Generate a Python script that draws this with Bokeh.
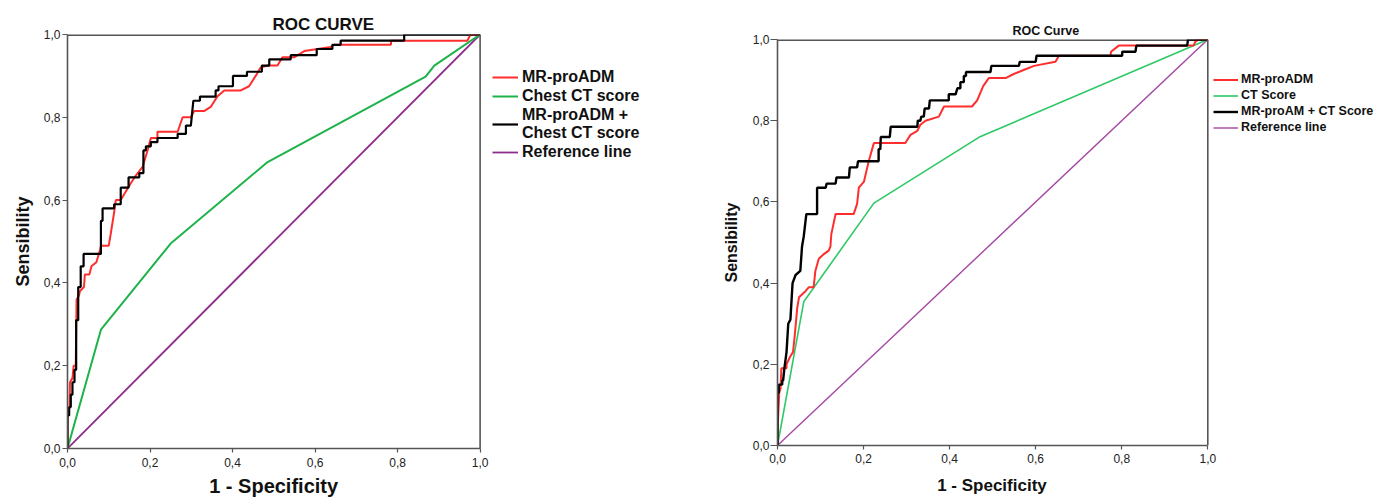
from bokeh.plotting import figure
from bokeh.models import Range1d, FixedTicker, CustomJSTickFormatter, Legend, LegendItem, Span
from bokeh.layouts import row, column
from bokeh.embed import file_html
from bokeh.resources import INLINE

FONT = "Liberation Sans"

# ---------------- data: left panel ----------------
left_title = "ROC CURVE"
left_names = ["MR-proADM", "Chest CT score", "MR-proADM +\nChest CT score", "Reference line"]

l_mr_fpr = [0, 0, 0.005, 0.006, 0.012, 0.015, 0.02, 0.022, 0.028, 0.03, 0.04, 0.042, 0.053, 0.058,
            0.07, 0.079, 0.081, 0.1, 0.105, 0.113, 0.117, 0.129, 0.141, 0.153, 0.166, 0.182, 0.194,
            0.198, 0.202, 0.218, 0.218, 0.267, 0.279, 0.299, 0.307, 0.331, 0.347, 0.363, 0.38, 0.42,
            0.44, 0.456, 0.468, 0.485, 0.509, 0.521, 0.549, 0.574, 0.638, 0.646, 0.784, 0.784, 0.969,
            0.977, 1.0]
l_mr_tpr = [0, 0.08, 0.1, 0.16, 0.17, 0.2, 0.2, 0.36, 0.37, 0.38, 0.39, 0.42, 0.42, 0.44,
            0.45, 0.48, 0.49, 0.49, 0.52, 0.57, 0.6, 0.6, 0.62, 0.64, 0.66, 0.68, 0.72,
            0.735, 0.75, 0.75, 0.765, 0.765, 0.8, 0.8, 0.815, 0.815, 0.825, 0.85, 0.865, 0.865,
            0.875, 0.9, 0.92, 0.925, 0.925, 0.945, 0.945, 0.96, 0.97, 0.975, 0.975, 0.985, 0.985,
            1.0, 1.0]

l_ct_fpr = [0, 0.081, 0.25, 0.485, 0.868, 0.889, 1.0]
l_ct_tpr = [0, 0.287, 0.495, 0.692, 0.898, 0.925, 1.0]

l_comb_fpr = [0, 0, 0.004, 0.004, 0.008, 0.008, 0.012, 0.012, 0.017, 0.017, 0.021, 0.021, 0.026, 0.026,
              0.032, 0.032, 0.039, 0.039, 0.081, 0.081, 0.085, 0.085, 0.113, 0.113, 0.129, 0.129,
              0.148, 0.148, 0.174, 0.174, 0.184, 0.184, 0.19, 0.19, 0.202, 0.202, 0.218, 0.218,
              0.267, 0.267, 0.287, 0.287, 0.299, 0.305, 0.321, 0.321, 0.359, 0.359, 0.366, 0.366,
              0.401, 0.401, 0.435, 0.435, 0.471, 0.471, 0.489, 0.489, 0.541, 0.541, 0.604, 0.604,
              0.642, 0.642, 0.662, 0.662, 0.816, 0.816, 1.0]
l_comb_tpr = [0, 0.08, 0.08, 0.1, 0.1, 0.13, 0.13, 0.16, 0.16, 0.19, 0.19, 0.31, 0.31, 0.39,
              0.39, 0.44, 0.44, 0.47, 0.47, 0.55, 0.55, 0.58, 0.58, 0.59, 0.59, 0.63,
              0.63, 0.655, 0.655, 0.665, 0.665, 0.72, 0.72, 0.73, 0.73, 0.74, 0.74, 0.75,
              0.75, 0.76, 0.76, 0.78, 0.78, 0.84, 0.84, 0.85, 0.85, 0.865, 0.865, 0.875,
              0.875, 0.9, 0.9, 0.91, 0.91, 0.925, 0.925, 0.94, 0.94, 0.95, 0.95, 0.965,
              0.965, 0.975, 0.975, 0.985, 0.985, 1.0, 1.0]

ref_fpr = [0, 1]
ref_tpr = [0, 1]

# axis limits (the plotted box is 0..1 on both axes)
axis_min, axis_max = 0.0, 1.0

# ---------------- data: right panel ----------------
right_title = "ROC Curve"
right_names = ["MR-proADM", "CT Score", "MR-proAM + CT Score", "Reference line"]

r_mr_fpr = [0, 0.001, 0.004, 0.007, 0.009, 0.021, 0.021, 0.030, 0.036, 0.040, 0.046, 0.050, 0.060,
            0.065, 0.073, 0.084, 0.088, 0.096, 0.106, 0.119, 0.123, 0.125, 0.135, 0.177, 0.185,
            0.189, 0.201, 0.212, 0.220, 0.224, 0.297, 0.309, 0.325, 0.332, 0.344, 0.375, 0.387,
            0.452, 0.464, 0.478, 0.491, 0.530, 0.549, 0.572, 0.596, 0.646, 0.654, 0.774, 0.775,
            0.793, 0.967, 0.971, 0.979, 1.0]
r_mr_tpr = [0, 0.06, 0.13, 0.14, 0.19, 0.19, 0.2, 0.22, 0.23, 0.27, 0.34, 0.365, 0.375,
            0.38, 0.39, 0.39, 0.43, 0.46, 0.47, 0.48, 0.49, 0.52, 0.57, 0.57, 0.595,
            0.635, 0.65, 0.70, 0.73, 0.745, 0.745, 0.765, 0.775, 0.79, 0.80, 0.81, 0.835,
            0.835, 0.85, 0.885, 0.905, 0.905, 0.915, 0.925, 0.935, 0.945, 0.96, 0.96, 0.97,
            0.985, 0.985, 0.995, 1.0, 1.0]

r_ct_fpr = [0, 0.061, 0.224, 0.468, 1.0]
r_ct_tpr = [0, 0.354, 0.597, 0.759, 1.0]

r_comb_fpr = [0, 0, 0.003, 0.003, 0.011, 0.011, 0.013, 0.016, 0.021, 0.025, 0.030, 0.035, 0.042,
              0.053, 0.057, 0.061, 0.067, 0.092, 0.092, 0.112, 0.114, 0.135, 0.137, 0.166, 0.168,
              0.185, 0.187, 0.235, 0.235, 0.239, 0.240, 0.261, 0.263, 0.325, 0.326, 0.332, 0.334,
              0.340, 0.342, 0.352, 0.354, 0.398, 0.398, 0.414, 0.418, 0.425, 0.425, 0.433, 0.433,
              0.438, 0.438, 0.495, 0.497, 0.561, 0.563, 0.600, 0.602, 0.801, 0.801, 0.832, 0.834,
              0.952, 0.954, 1.0]
r_comb_tpr = [0, 0.13, 0.13, 0.15, 0.15, 0.16, 0.16, 0.19, 0.23, 0.30, 0.31, 0.40, 0.42,
              0.43, 0.49, 0.515, 0.57, 0.57, 0.635, 0.635, 0.645, 0.645, 0.66, 0.66, 0.685,
              0.685, 0.70, 0.70, 0.73, 0.73, 0.76, 0.76, 0.785, 0.785, 0.80, 0.80, 0.81,
              0.81, 0.83, 0.83, 0.85, 0.85, 0.865, 0.865, 0.88, 0.88, 0.895, 0.895, 0.91,
              0.91, 0.92, 0.92, 0.935, 0.935, 0.945, 0.945, 0.96, 0.96, 0.97, 0.97, 0.985,
              0.985, 1.0, 1.0]

tick_values = [0, 0.2, 0.4, 0.6, 0.8, 1.0]
x_label = "1 - Specificity"
y_label = "Sensibility"
EDGE = "#555555"
NBSP = "\u00a0"


def make_panel(cfg):
    # the frame is wider than the 0..1 box so that the legend sits inside it (unclipped)
    frame_w = cfg["w"] - cfg["bl"] - cfg["br"]
    x_end = frame_w / cfg["unit_px"]
    # trailing no-break spaces shift the centred x label back over the 0..1 box
    xlab = x_label + NBSP * cfg["xlab_pad"]
    p = figure(width=cfg["w"], height=cfg["h"], output_backend="svg", toolbar_location=None,
               x_range=Range1d(0, x_end), y_range=Range1d(axis_min, axis_max),
               min_border_left=cfg["bl"], min_border_right=cfg["br"],
               min_border_top=cfg["bt"], min_border_bottom=cfg["bb"],
               x_axis_label=xlab, y_axis_label=y_label)
    p.background_fill_color = "white"
    p.border_fill_color = "white"
    p.grid.visible = False
    p.outline_line_color = None
    fmt = CustomJSTickFormatter(code="return tick.toFixed(1).replace('.', ',');")
    for ax in (p.xaxis[0], p.yaxis[0]):
        ax.ticker = FixedTicker(ticks=tick_values)
        ax.formatter = fmt
        ax.bounds = (axis_min, axis_max)
        ax.minor_tick_line_color = None
        ax.major_tick_in = 0
        ax.axis_line_color = EDGE
        ax.axis_line_width = 1.6
        ax.major_tick_line_color = EDGE
        ax.major_tick_line_width = 1.2
        ax.major_label_text_font = FONT
        ax.major_label_text_font_size = cfg["tick_fs"]
        ax.major_label_text_color = "#222222"
        ax.axis_label_text_font = FONT
        ax.axis_label_text_font_style = "bold"
        ax.axis_label_text_color = "#111111"
    p.xaxis[0].major_tick_out = cfg["xtick_out"]
    p.yaxis[0].major_tick_out = cfg["ytick_out"]
    p.xaxis[0].major_label_standoff = cfg["xl_standoff"]
    p.yaxis[0].major_label_standoff = cfg["yl_standoff"]
    p.xaxis[0].axis_label_text_font_size = cfg["xlab_fs"]
    p.yaxis[0].axis_label_text_font_size = cfg["ylab_fs"]
    p.xaxis[0].axis_label_standoff = cfg["xlab_standoff"]
    p.yaxis[0].axis_label_standoff = cfg["ylab_standoff"]

    # box edges: right edge at x = 1 and top edge at y = 1
    p.add_layout(Span(location=axis_max, dimension="height", line_color=EDGE, line_width=1.6))
    p.line([axis_min, axis_max], [axis_max, axis_max], line_color=EDGE, line_width=3.2)

    p.title.text = cfg["title"]
    p.title.align = "left"
    p.title.offset = cfg["title_offset"]
    p.title.text_font = FONT
    p.title.text_font_size = cfg["title_fs"]
    p.title.text_font_style = "bold"
    p.title.text_color = "#111111"
    p.title.standoff = cfg["title_standoff"]

    r_ref = p.line(ref_fpr, ref_tpr, line_color=cfg["c_ref"], line_width=cfg["w_ref"])
    r_ct = p.line(cfg["ct"][0], cfg["ct"][1], line_color=cfg["c_ct"], line_width=cfg["w_ct"])
    r_mr = p.line(cfg["mr"][0], cfg["mr"][1], line_color="#ff2e2e", line_width=cfg["w_mr"])
    r_cb = p.line(cfg["cb"][0], cfg["cb"][1], line_color="#000000", line_width=cfg["w_cb"])

    names = cfg["names"]
    legend = Legend(items=[LegendItem(label=names[0], renderers=[r_mr]),
                           LegendItem(label=names[1], renderers=[r_ct]),
                           LegendItem(label=names[2], renderers=[r_cb]),
                           LegendItem(label=names[3], renderers=[r_ref])],
                    location=cfg["leg_loc"])
    legend.padding = 0
    legend.margin = 0
    legend.border_line_alpha = 0
    legend.background_fill_alpha = 0
    legend.label_text_font = FONT
    legend.label_text_font_style = "bold"
    legend.label_text_font_size = cfg["leg_fs"]
    legend.label_text_color = "#111111"
    legend.glyph_width = cfg["glyph_w"]
    legend.glyph_height = cfg["leg_h"]
    legend.label_height = cfg["leg_h"]
    legend.spacing = cfg["leg_sp"]
    legend.label_standoff = cfg["leg_standoff"]
    p.add_layout(legend, "center")
    return p


left_cfg = dict(w=700, h=500, bl=67, br=4, bt=34, bb=52, unit_px=412.6,
                tick_fs="12px", xtick_out=4, ytick_out=5, xl_standoff=5, yl_standoff=2,
                xlab_fs="20px", ylab_fs="18px", xlab_standoff=5, ylab_standoff=8, xlab_pad=39,
                title=left_title, title_offset=205, title_fs="17px", title_standoff=1,
                c_ref="#8e2c8e", w_ref=1.8, c_ct="#1db34a", w_ct=2.0, w_mr=2.0, w_cb=2.2,
                mr=(l_mr_fpr, l_mr_tpr), ct=(l_ct_fpr, l_ct_tpr), cb=(l_comb_fpr, l_comb_tpr),
                names=left_names, leg_loc=(425, 287), leg_fs="16px", glyph_w=26, leg_h=16,
                leg_sp=1, leg_standoff=4)

right_cfg = dict(w=680, h=500, bl=77, br=4, bt=39, bb=55, unit_px=430.3,
                 tick_fs="12px", xtick_out=4, ytick_out=7, xl_standoff=4, yl_standoff=1,
                 xlab_fs="17px", ylab_fs="16px", xlab_standoff=10, ylab_standoff=10, xlab_pad=36,
                 title=right_title, title_offset=235, title_fs="12.5px", title_standoff=3,
                 c_ref="#a347a3", w_ref=1.4, c_ct="#2ec866", w_ct=1.6, w_mr=2.0, w_cb=2.4,
                 mr=(r_mr_fpr, r_mr_tpr), ct=(r_ct_fpr, r_ct_tpr), cb=(r_comb_fpr, r_comb_tpr),
                 names=right_names, leg_loc=(436, 311), leg_fs="12.5px", glyph_w=25, leg_h=13,
                 leg_sp=2, leg_standoff=3)

p1 = make_panel(left_cfg)
p2 = make_panel(right_cfg)

layout = row(column(p1), column(p2))
open("out.html", "w").write(file_html(layout, INLINE))
